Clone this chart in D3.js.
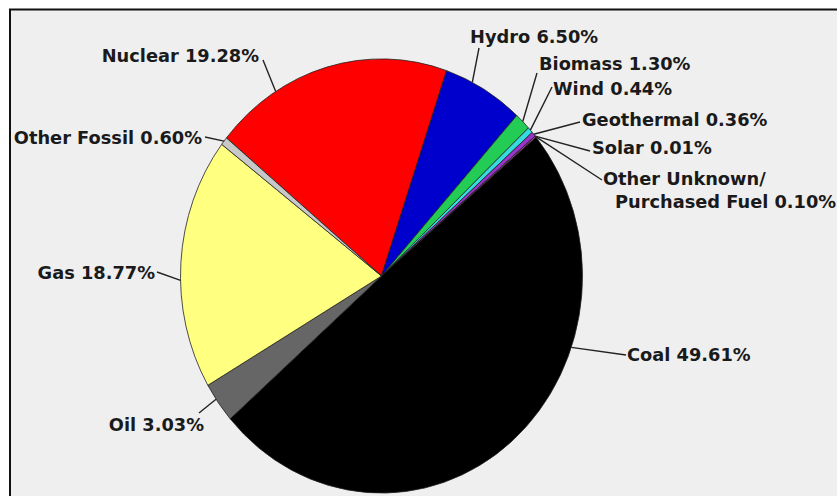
<!DOCTYPE html>
<html>
<head>
<meta charset="utf-8">
<script src="https://cdn.jsdelivr.net/npm/d3@7/dist/d3.min.js"></script>
<style>
  html, body { margin: 0; padding: 0; background: #ffffff; }
  svg { display: block; }
  text { font-family: "DejaVu Sans", Verdana, sans-serif; font-weight: bold; fill: #1a1a1a; }
</style>
</head>
<body>
<svg id="chart" width="837" height="496"></svg>
<script>
// Electricity generation by fuel source (share of total, %)
const sources = ["Nuclear", "Hydro", "Biomass", "Wind", "Geothermal", "Solar",
                 "Other Unknown/ Purchased Fuel", "Coal", "Oil", "Gas", "Other Fossil"];
const shares  = [19.28, 6.50, 1.30, 0.44, 0.36, 0.01, 0.10, 49.61, 3.03, 18.77, 0.60];
const colors  = ["#ff0000", "#0000cc", "#22cc55", "#33dddd", "#9933cc", "#ff9900",
                 "#cc44cc", "#000000", "#666666", "#ffff80", "#c8c8c8"];

// label placement: text anchor point, leader end near the text, and where along
// the slice (0..1) the leader meets the rim
const labelLayout = [
  { x: 259, y: 56,  anchor: "end",   lx: 263, ly: 60,  f: 0.27 },
  { x: 470, y: 37,  anchor: "start", lx: 479, ly: 48,  f: 0.34 },
  { x: 539, y: 64,  anchor: "start", lx: 537, ly: 73,  f: 0.5 },
  { x: 553, y: 89,  anchor: "start", lx: 552, ly: 87,  f: 0.5 },
  { x: 582, y: 120, anchor: "start", lx: 580, ly: 122, f: 0.5 },
  { x: 592, y: 148, anchor: "start", lx: 590, ly: 151, f: 0.5 },
  { x: 603, y: 179, anchor: "start", lx: 602, ly: 180, f: 0.5, x2: 615, y2: 202 },
  { x: 627, y: 355, anchor: "start", lx: 626, ly: 355, f: 0.33 },
  { x: 204, y: 425, anchor: "end",   lx: 199, ly: 413, f: 0.6 },
  { x: 155, y: 273, anchor: "end",   lx: 157, ly: 272, f: 0.43 },
  { x: 202, y: 138, anchor: "end",   lx: 205, ly: 137, f: 0.5 }
];

const W = 837, H = 496;
const cx = 381.5, cy = 276, R = 201, SY = 1.08;   // pie is drawn slightly taller than wide
const startDeg = -50.5;
const fontSize = 17.8;

const svg = d3.select("#chart");

// panel
svg.append("rect").attr("x", 0).attr("y", 0).attr("width", W).attr("height", H).attr("fill", "#ffffff");
svg.append("rect").attr("x", 10).attr("y", 9.5).attr("width", W + 20).attr("height", H + 20)
  .attr("fill", "#efefef").attr("stroke", "#111").attr("stroke-width", 2);

const data = sources.map((s, i) => ({ name: s, value: shares[i], color: colors[i], layout: labelLayout[i] }));

const pie = d3.pie().sort(null).value(d => d.value)
  .startAngle(startDeg * Math.PI / 180)
  .endAngle(startDeg * Math.PI / 180 + 2 * Math.PI);
const arcs = pie(data);
const arc = d3.arc().innerRadius(0).outerRadius(R);

const g = svg.append("g").attr("transform", `translate(${cx},${cy}) scale(1,${SY})`);
g.selectAll("path.slice").data(arcs).enter().append("path")
  .attr("class", "slice")
  .attr("d", arc)
  .attr("fill", d => d.data.color)
  .attr("stroke", "#222")
  .attr("stroke-width", 0.8)
  .attr("vector-effect", "non-scaling-stroke");

// rim point of a slice, in page coordinates
function rimPoint(a) {
  const ang = a.startAngle + (a.endAngle - a.startAngle) * a.data.layout.f;
  return [cx + R * Math.sin(ang), cy - R * Math.cos(ang) * SY];
}

const lab = svg.append("g");
arcs.forEach(a => {
  const L = a.data.layout;
  const p = rimPoint(a);
  lab.append("line")
    .attr("x1", p[0]).attr("y1", p[1]).attr("x2", L.lx).attr("y2", L.ly)
    .attr("stroke", "#222").attr("stroke-width", 1.4);

  const pct = d3.format(".2f")(a.data.value) + "%";
  const lines = a.data.name.includes("/ ")
    ? [a.data.name.split("/ ")[0] + "/", a.data.name.split("/ ")[1] + " " + pct]
    : [a.data.name + " " + pct];
  const pos = [[L.x, L.y], [L.x2, L.y2]];
  lines.forEach((t, k) => {
    lab.append("text")
      .attr("x", pos[k][0]).attr("y", pos[k][1])
      .attr("text-anchor", L.anchor)
      .attr("dy", "0.36em")
      .attr("font-size", fontSize)
      .text(t);
  });
});
</script>
</body>
</html>
